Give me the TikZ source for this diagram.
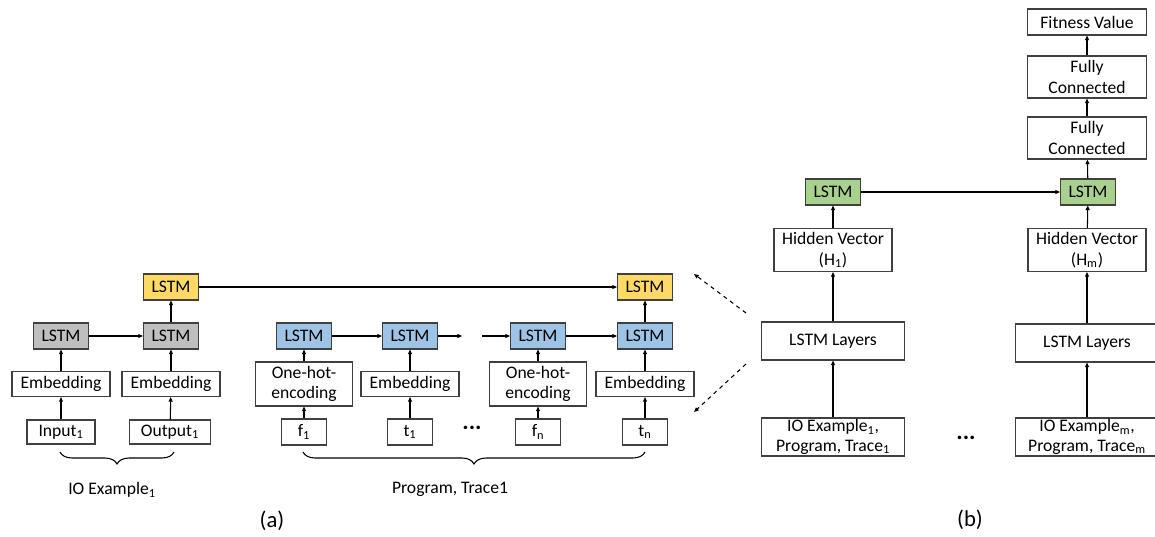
\documentclass[tikz,border=0pt]{standalone}
\usepackage{fontspec}
\setmainfont{Carlito}
\usetikzlibrary{arrows.meta,positioning,calc,decorations.pathreplacing}
\definecolor{Edge}{HTML}{404040}
\definecolor{Gold}{HTML}{FFD966}
\definecolor{Sky}{HTML}{9DC3E6}
\definecolor{Stone}{HTML}{BFBFBF}
\definecolor{Leaf}{HTML}{A9D18E}

\begin{document}
\begin{tikzpicture}[x=0.75pt,y=-0.75pt,
  box/.style={draw=Edge,line width=0.8pt,inner sep=0pt,align=center,
    font=\fontsize{13.2}{15.5}\selectfont},
  cell/.style={box,minimum width=41.25pt,minimum height=19.5pt},
  emb/.style={box,minimum width=73.5pt,minimum height=18.75pt},
  onehot/.style={box,minimum width=72.75pt,minimum height=33pt},
  token/.style={box,minimum width=33.75pt,minimum height=19.5pt},
  wide/.style={box,minimum width=107.25pt,minimum height=28.5pt},
  tall/.style={box,minimum width=88.5pt,minimum height=32.25pt},
  flow/.style={-{Triangle[length=3.5pt,width=3pt]},line width=0.8pt},
  label/.style={font=\fontsize{13.2}{15.5}\selectfont},
  ellip/.style={font=\fontsize{18}{20}\selectfont\bfseries},
  curly/.style={decorate,decoration={brace,mirror,amplitude=9pt},line width=0.8pt}]
  \useasboundingbox (0,0) rectangle (1155,536);
  % (a) IO example encoder
  \node[cell,fill=Stone] (gl1) at (61,336) {LSTM};
  \node[cell,fill=Stone] (gl2) at (171,336) {LSTM};
  \node[cell,fill=Gold] (ya) at (171,287) {LSTM};
  \node[cell,fill=Gold] (yb) at (645,287) {LSTM};
  \node[emb] (e1) at (61,384) {Embedding};
  \node[emb] (e2) at (171,384) {Embedding};
  \node[box,minimum width=51pt,minimum height=18pt] (in1) at (61,432) {Input\textsubscript{1}};
  \node[box,minimum width=60.75pt,minimum height=18pt] (out1) at (170,432) {Output\textsubscript{1}};
  \draw[flow] (in1) -- (e1);
  \draw[flow] (out1) -- (e2);
  \draw[flow] (e1) -- (gl1);
  \draw[flow] (e2) -- (gl2);
  \draw[flow] (gl1) -- (gl2);
  \draw[flow] (gl2) -- (ya);
  \draw[flow] (ya) -- (yb);
  % (a) program and trace encoder
  \foreach \n/\x in {b1/304,b2/410,b3/538,b4/645}{\node[cell,fill=Sky] (\n) at (\x,336) {LSTM};}
  \node[onehot] (oh1) at (304,384) {One-hot-\\encoding};
  \node[emb] (et1) at (410,384) {Embedding};
  \node[onehot] (ohn) at (538,384) {One-hot-\\encoding};
  \node[emb] (etn) at (645,384) {Embedding};
  \node[token] (f1) at (304,432) {f\textsubscript{1}};
  \node[token] (t1) at (410,432) {t\textsubscript{1}};
  \node[token] (fn) at (538,432) {f\textsubscript{n}};
  \node[token] (tn) at (645,432) {t\textsubscript{n}};
  \node[ellip] (dotsa) at (472,428) {...};
  \foreach \a/\b in {f1/oh1,t1/et1,fn/ohn,tn/etn,oh1/b1,et1/b2,ohn/b3,etn/b4,b1/b2,b3/b4,b4/yb}{\draw[flow] (\a) -- (\b);}
  \coordinate (gapl) at (462,336);
  \coordinate (gapr) at (482,336);
  \draw[flow] (b2) -- (gapl);
  \draw[flow] (gapr) -- (b3);
  % braces
  \draw[curly] (60,452) -- (174,452);
  \draw[curly] (303,452) -- (645,452);
  \node[label] (ioa) at (112,490) {IO Example\textsubscript{1}};
  \node[label] (pta) at (450,489) {Program, Trace1};
  \node[font=\fontsize{17}{20}\selectfont] (capa) at (272,521) {(a)};
  % zoom arrows
  \coordinate (zs1) at (746,313);
  \coordinate (ze1) at (694,274);
  \coordinate (zs2) at (746,364);
  \coordinate (ze2) at (694,412);
  \draw[flow,dashed] (zs1) -- (ze1);
  \draw[flow,dashed] (zs2) -- (ze2);
  % (b) fitness network
  \node[cell,fill=Leaf] (g1) at (833,192) {LSTM};
  \node[cell,fill=Leaf] (g2) at (1088,192) {LSTM};
  \node[tall] (h1) at (833,250) {Hidden Vector\\(H\textsubscript{1})};
  \node[tall] (hm) at (1087,250) {Hidden Vector\\(H\textsubscript{m})};
  \node[wide] (l1) at (833,341) {LSTM Layers};
  \node[wide] (lm) at (1087,343) {LSTM Layers};
  \node[wide,font=\fontsize{13.2}{14.5}\selectfont] (io1) at (833,437) {IO Example\textsubscript{1},\\Program, Trace\textsubscript{1}};
  \node[wide,font=\fontsize{13.2}{14.5}\selectfont] (iom) at (1087,437) {IO Example\textsubscript{m},\\Program, Trace\textsubscript{m}};
  \node[ellip] (dotsb) at (966,438) {...};
  \node[box,minimum width=89.25pt,minimum height=31.5pt] (fc2) at (1087,138) {Fully\\Connected};
  \node[box,minimum width=89.25pt,minimum height=31.5pt] (fc1) at (1087,77) {Fully\\Connected};
  \node[box,minimum width=89.25pt,minimum height=19.5pt] (fv) at (1087,22) {Fitness Value};
  \foreach \a/\b in {io1/l1,l1/h1,h1/g1,iom/lm,lm/hm,hm/g2,g1/g2,g2/fc2,fc2/fc1,fc1/fv}{\draw[flow] (\a) -- (\b);}
  \node[font=\fontsize{17}{20}\selectfont] (capb) at (970,520) {(b)};
\end{tikzpicture}
\end{document}
